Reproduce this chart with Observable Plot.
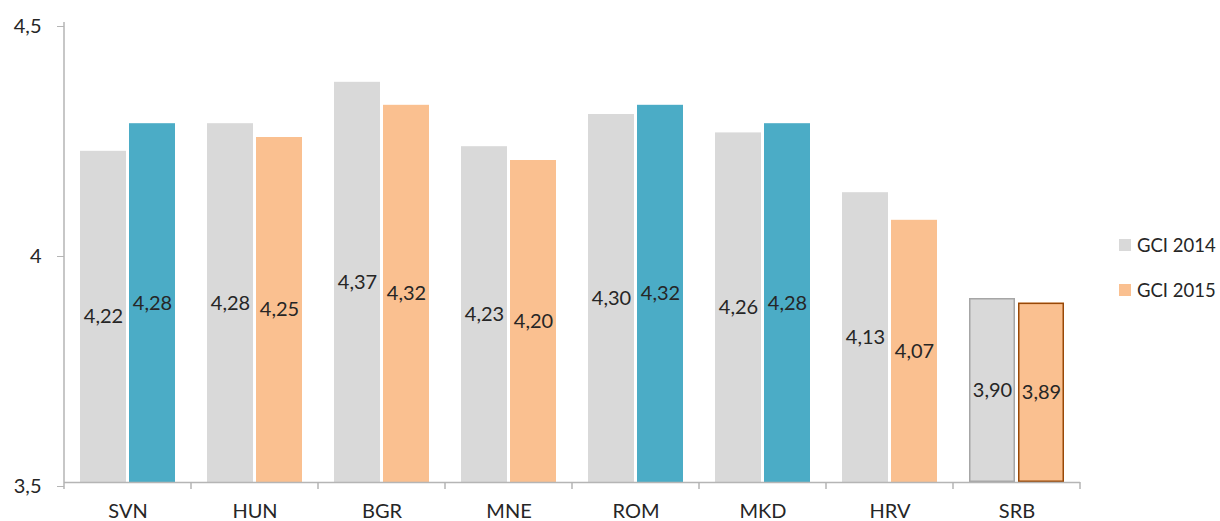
<!DOCTYPE html>
<html>
<head>
<meta charset="utf-8">
<script src="https://cdn.jsdelivr.net/npm/d3@7"></script>
<script src="https://cdn.jsdelivr.net/npm/@observablehq/plot@0.6"></script>
<style>
  html, body { margin: 0; padding: 0; background: #fff; }
  #wrap { position: relative; width: 1220px; height: 521px; font-family: Lato, "Open Sans", sans-serif; }
  .legend { position: absolute; left: 1119px; top: 234px; color: #262626; font-size: 18.5px; }
  .legend .row { display: flex; align-items: center; height: 22px; margin-bottom: 23px; }
  .legend .sw { width: 12px; height: 12px; margin-right: 6px; }
</style>
</head>
<body>
<div id="wrap"></div>
<script>
const countries = ["SVN", "HUN", "BGR", "MNE", "ROM", "MKD", "HRV", "SRB"];
const gci2014 = [4.22, 4.28, 4.37, 4.23, 4.30, 4.26, 4.13, 3.90];
const gci2015 = [4.28, 4.25, 4.32, 4.20, 4.32, 4.28, 4.07, 3.89];
const series = ["GCI 2014", "GCI 2015"];
const yTicks = [3.5, 4, 4.5];
const outlined = ["SRB"];

const GRAY = "#d9d9d9", TEAL = "#4bacc6", ORANGE = "#fac090";
const AXIS = "#b5b5b5", TEXT = "#262626";

const rows = countries.flatMap((c, i) => [
  {country: c, year: series[0], value: gci2014[i], prev: null},
  {country: c, year: series[1], value: gci2015[i], prev: gci2014[i]}
]);
const base = yTicks[0];
const fmt = v => String(v).replace(".", ",");

const fillOf = d => d.year === series[0] ? GRAY : (d.value > d.prev ? TEAL : ORANGE);

const plot = Plot.plot({
  width: 1220,
  height: 521,
  marginLeft: 62,
  marginRight: 139,
  marginTop: 22,
  marginBottom: 39,
  style: {fontFamily: "Lato, 'Open Sans', sans-serif", color: TEXT, background: "#fff"},
  fx: {domain: countries, padding: 0, label: null, axis: null},
  x: {domain: series, paddingInner: 0.06, paddingOuter: 0.304, axis: null},
  y: {domain: [yTicks[0], yTicks[yTicks.length - 1]], axis: null},
  color: {type: "identity"},
  marks: [
    Plot.barY(rows, {fx: "country", x: "year", y1: () => base, y2: "value", fill: fillOf}),
    Plot.barY(rows.filter(d => outlined.includes(d.country)), {
      fx: "country", x: "year", y1: () => base, y2: "value", fill: "none",
      stroke: d => d.year === series[0] ? "#a6a6a6" : "#984807",
      strokeWidth: 1.5, inset: 0.75
    }),
    Plot.ruleY([base], {stroke: AXIS, strokeWidth: 1.5}),
    Plot.text(rows, {
      fx: "country", x: "year", y: d => (d.value + base) / 2,
      text: d => d.value.toFixed(2).replace(".", ","), fontSize: 20, fill: TEXT
    }),
    Plot.axisFx({domain: countries, anchor: "bottom", tickSize: 0, tickPadding: 21, fontSize: 20, label: null, color: TEXT}),
    Plot.axisY({ticks: yTicks, tickFormat: fmt, tickSize: 7, tickPadding: 16, fontSize: 20, stroke: AXIS, color: TEXT, dy: 4, label: null})
  ]
});

// Axis line and category boundary ticks, drawn from the library's scales
const fxS = plot.scale("fx"), yS = plot.scale("y");
const edges = countries.map(c => fxS.apply(c));
edges.push(edges[edges.length - 1] + fxS.bandwidth);
const g = d3.select(plot).append("g").attr("stroke", AXIS).attr("stroke-width", 1.5);
const y0 = yS.apply(yTicks[0]), y1 = yS.apply(yTicks[yTicks.length - 1]);
g.append("line").attr("x1", edges[0]).attr("x2", edges[0]).attr("y1", y1).attr("y2", y0);
g.selectAll(".bt").data(edges).join("line")
  .attr("x1", d => d).attr("x2", d => d).attr("y1", y0).attr("y2", y0 + 7);

const wrap = document.getElementById("wrap");
wrap.appendChild(plot);

const legend = document.createElement("div");
legend.className = "legend";
[[series[0], GRAY], [series[1], ORANGE]].forEach(([name, col]) => {
  const row = document.createElement("div");
  row.className = "row";
  const sw = document.createElement("div");
  sw.className = "sw";
  sw.style.background = col;
  const t = document.createElement("span");
  t.textContent = name;
  row.appendChild(sw); row.appendChild(t);
  legend.appendChild(row);
});
wrap.appendChild(legend);
</script>
</body>
</html>
